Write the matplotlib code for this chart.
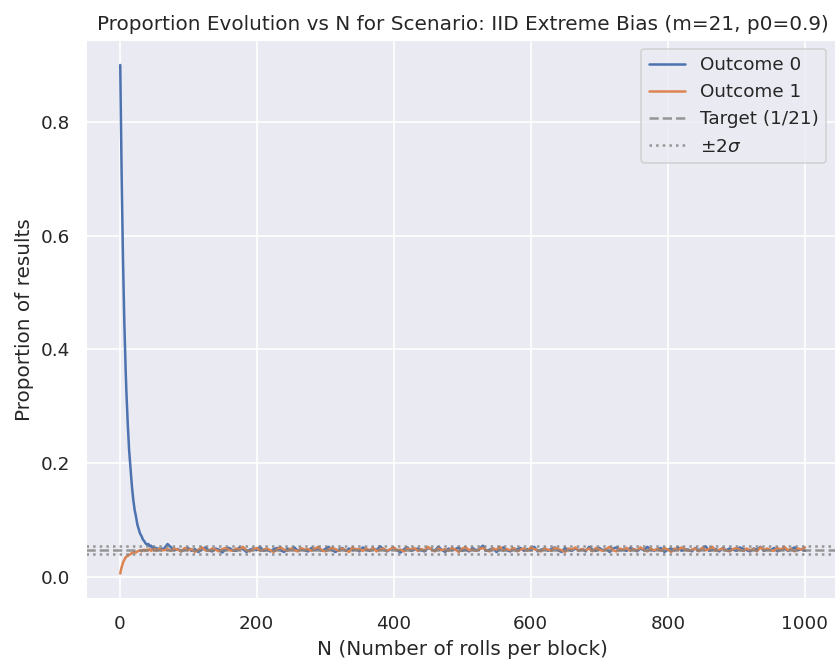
import numpy as np
import matplotlib
matplotlib.use('Agg')
import matplotlib.pyplot as plt
import seaborn as sns

# Proportions in per-mille
# start of the run: N = 1..10, then every 2 up to 60
n_head = [1, 2, 3, 4, 5, 6, 7, 8, 9, 10,
          12, 14, 16, 18, 20, 22, 24, 26, 28, 30, 32, 34, 36, 38, 40,
          42, 44, 46, 48, 50, 52, 54, 56, 58, 60]
out0_head = [900, 800, 710, 630, 560, 500, 445, 400, 360, 325,
             268, 222, 190, 160, 136, 118, 106, 92, 84, 76, 72, 66, 63, 59, 57,
             58, 54, 55, 51, 53, 49, 51, 48, 50, 49]
out1_head = [6, 12, 17, 21, 25, 28, 30, 33, 34, 36,
             37, 39, 40, 42, 43, 44, 43, 45, 46, 47, 45, 47, 48, 46, 48,
             47, 49, 46, 48, 47, 49, 46, 48, 50, 47]

# rest of the run: N = 65..1000 every 5
n_tail = list(range(65, 1001, 5))
out0_tail = [50, 58, 52, 47, 49, 45, 48, 51, 46, 49, 44, 48, 52, 47, 45, 50, 48, 43, 49, 51,
             47, 46, 52, 49, 44, 48, 50, 47, 53, 46, 48, 45, 49, 51, 47, 44, 50, 48, 52, 46,
             49, 47, 45, 51, 48, 50, 46, 49, 53, 47, 44, 48, 51, 46, 50, 47, 49, 45, 52, 48,
             46, 50, 47, 54, 49, 45, 48, 51, 47, 43, 49, 52, 46, 48, 50, 47, 45, 51, 49, 46,
             53, 48, 44, 50, 47, 49, 52, 46, 48, 45, 51, 47, 49, 55, 46, 48, 50, 44, 49, 52,
             47, 45, 50, 48, 51, 46, 49, 47, 53, 45, 48, 50, 46, 49, 52, 47, 44, 51, 48, 46,
             50, 47, 49, 45, 53, 48, 46, 51, 47, 49, 44, 50, 52, 47, 48, 46, 51, 49, 45, 50,
             47, 53, 48, 46, 49, 51, 44, 48, 50, 47, 52, 46, 49, 48, 45, 51, 47, 50, 54, 46,
             48, 49, 45, 51, 47, 50, 48, 46, 52, 49, 47, 45, 50, 48, 53, 46, 49, 47, 51, 45,
             48, 50, 46, 49, 52, 47, 49, 46]
out1_tail = [47, 49, 46, 50, 48, 45, 51, 47, 49, 44, 48, 52, 47, 46, 50, 48, 45, 49, 51, 47,
             46, 50, 48, 53, 47, 45, 49, 51, 46, 48, 50, 47, 44, 49, 52, 48, 46, 50, 47, 45,
             51, 48, 49, 46, 50, 53, 47, 45, 48, 51, 49, 46, 50, 47, 44, 52, 48, 49, 46, 50,
             47, 51, 45, 48, 50, 46, 49, 52, 47, 48, 45, 50, 48, 51, 46, 49, 47, 53, 48, 45,
             50, 47, 49, 46, 51, 48, 44, 50, 52, 47, 48, 46, 49, 51, 47, 45, 50, 48, 53, 46,
             49, 47, 51, 45, 48, 50, 46, 52, 49, 47, 45, 50, 48, 46, 51, 49, 47, 44, 50, 48,
             52, 46, 49, 47, 50, 45, 51, 48, 46, 49, 53, 47, 45, 50, 48, 51, 46, 49, 47, 52,
             48, 45, 50, 47, 49, 46, 51, 48, 44, 50, 47, 52, 49, 46, 48, 50, 45, 51, 47, 49,
             53, 46, 48, 50, 47, 45, 49, 51, 48, 46, 50, 47, 49, 45, 52, 48, 50, 47, 46, 51,
             48, 53, 47, 49, 45, 50, 48, 52]

m = 21
target = 1 / m
sigma = 0.0035

n = np.array(n_head + n_tail)
p0 = np.array(out0_head + out0_tail) / 1000
p1 = np.array(out1_head + out1_tail) / 1000

sns.set_theme()
fig = plt.figure(figsize=(835 / 120, 666 / 120), dpi=120)
# right edge of the axes runs a little past the picture, as in the reference
ax = fig.add_axes([0.103, 0.1006, 0.902, 0.840])

ax.plot(n, p0, label='Outcome 0', lw=1.5)
ax.plot(n, p1, label='Outcome 1', lw=1.5)
ax.axhline(target, color='gray', ls='--', lw=1.5, alpha=0.8, label='Target (1/21)')
ax.axhline(target + 2 * sigma, color='gray', ls=':', lw=1.5, alpha=0.8, label=r'$\pm2\sigma$')
ax.axhline(target - 2 * sigma, color='gray', ls=':', lw=1.5, alpha=0.8)

ax.set_xlim(-48.95, 1049.95)
ax.set_title('Proportion Evolution vs N for Scenario: IID Extreme Bias (m=21, p0=0.9)')
ax.set_xlabel('N (Number of rolls per block)')
ax.set_ylabel('Proportion of results')
ax.legend(loc='upper right', bbox_to_anchor=(0.995, 1.0))

fig.savefig('out.png', dpi=120)
